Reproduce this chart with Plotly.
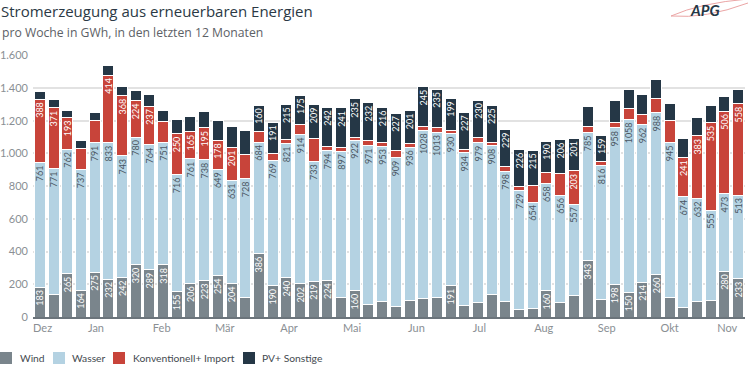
import plotly.graph_objects as go

# ---- data (GWh per week, last 12 months) ----
weeks = list(range(52))
wind = [183,137,265,164,275,232,242,320,289,318,155,206,223,254,204,118,386,190,240,202,
        219,224,118,160,78,92,65,102,114,118,191,69,86,139,94,45,49,160,90,133,
        343,110,198,150,214,260,122,61,92,98,280,233]
wasser = [761,771,762,737,791,833,743,780,764,751,716,761,738,649,631,728,684,769,821,914,
          733,794,897,922,971,953,909,936,1028,1013,930,934,979,908,798,729,654,658,656,557,
          785,816,958,1058,962,988,945,674,632,555,473,513]
konv = [388,371,193,132,138,414,368,224,237,125,250,165,195,178,201,147,65,41,25,64,
        138,23,22,16,29,20,46,23,21,28,18,21,31,22,26,22,101,68,132,203,
        39,25,36,65,61,91,133,241,383,535,506,558]
pv = [47,50,45,49,49,60,59,64,69,71,87,92,101,119,127,145,160,191,215,175,
      209,242,241,235,232,216,227,201,245,235,199,227,230,225,229,226,215,190,206,201,
      119,159,130,119,126,114,106,114,113,106,92,88]

month_labels = ["Dez","Jan","Feb","Mär","Apr","Mai","Jun","Jul","Aug","Sep","Okt","Nov"]
month_pos = [0.2,4.1,8.9,13.5,18.2,22.8,27.5,32.1,36.8,41.4,46.0,50.2]

series_names = ["Wind","Wasser","Konventionell+ Import","PV+ Sonstige"]
series_colors = ["#7a858c","#b4d2e2","#c8443a","#253746"]
label_colors = ["#ffffff","#4a5661","#ffffff","#ffffff"]
yticks = [0,200,400,600,800,1000,1200,1400,1600]

FONT = "Lato"
TFONT = "Open Sans"
fig = go.Figure()
for vals, name, col, tcol in zip([wind, wasser, konv, pv], series_names, series_colors, label_colors):
    fig.add_trace(go.Bar(
        x=weeks, y=vals, name=name,
        marker=dict(color=col, line=dict(color="#ffffff", width=1)),
        text=[str(v) if v >= 150 else "" for v in vals],
        textposition="inside", insidetextanchor="end", textangle=-90,
        constraintext="none",
        textfont=dict(family=FONT, size=9, color=tcol),
        showlegend=False,
    ))

# plot area geometry (pixels)
L, R, T, B, W, H = 33, 5, 55, 58, 750, 375
PW, PH = W - L - R, H - T - B
def px(x): return (x - L) / PW
def py(y): return (H - B - y) / PH

fig.update_layout(
    width=W, height=H, barmode="stack", bargap=0.2,
    margin=dict(l=L, r=R, t=T, b=B, autoexpand=False),
    paper_bgcolor="white", plot_bgcolor="white",
    separators=",.",
    font=dict(family=FONT, color="#555"),
    xaxis=dict(range=[-0.5, 51.5], tickmode="array", tickvals=month_pos, ticktext=month_labels,
               showgrid=False, showline=True, linecolor="#6b747b", linewidth=1.5,
               ticks="", tickfont=dict(family=FONT, size=11, color="#8a8f94"), zeroline=False),
    yaxis=dict(range=[0, 1602], tickmode="array", tickvals=yticks, tickformat=",d",
               showgrid=True, gridcolor="#e2e2e2", gridwidth=1.5, zeroline=False,
               ticks="", ticklabelstandoff=4, tickfont=dict(family=FONT, size=11, color="#8a8f94")),
)

ann = []
ann.append(dict(text="Stromerzeugung aus erneuerbaren Energien", x=px(0), y=py(0), xref="paper", yref="paper",
                xanchor="left", yanchor="top", showarrow=False, borderpad=0,
                font=dict(family=TFONT, size=15, color="#2b3945")))
ann.append(dict(text="pro Woche in GWh, in den letzten 12 Monaten", x=px(0), y=py(32), xref="paper", yref="paper",
                xanchor="left", yanchor="middle", showarrow=False,
                font=dict(family=TFONT, size=12.2, color="#5d6166")))
ann.append(dict(text="<b><i>APG</i></b>", x=px(705), y=py(10), xref="paper", yref="paper",
                xanchor="center", yanchor="middle", showarrow=False,
                font=dict(family=FONT, size=15, color="#253746")))

shapes = []
shapes.append(dict(type="path", xref="paper", yref="paper",
                   path=f"M {px(671)},{py(16)} Q {px(700)},{py(3)} {px(748)},{py(-1)} M {px(671)},{py(16)} Q {px(705)},{py(19)} {px(748)},{py(3)}",
                   line=dict(color="#eba5a5", width=1)))

# legend (manual)
legend_items = [(0, 18), (53, 70), (113, 131), (243, 260)]
for (sx, tx), name, col in zip(legend_items, series_names, series_colors):
    shapes.append(dict(type="rect", xref="paper", yref="paper",
                       x0=px(sx), x1=px(sx + 12), y0=py(352), y1=py(364),
                       fillcolor=col, line=dict(width=0)))
    ann.append(dict(text=name, x=px(tx), y=py(358), xref="paper", yref="paper",
                    xanchor="left", yanchor="middle", showarrow=False,
                    font=dict(family=FONT, size=10.3, color="#444a50")))

fig.update_layout(annotations=ann, shapes=shapes)
fig.write_html("out.html", config={"displayModeBar": False},
               post_script="document.body.style.margin='0';document.body.style.overflow='hidden';")
